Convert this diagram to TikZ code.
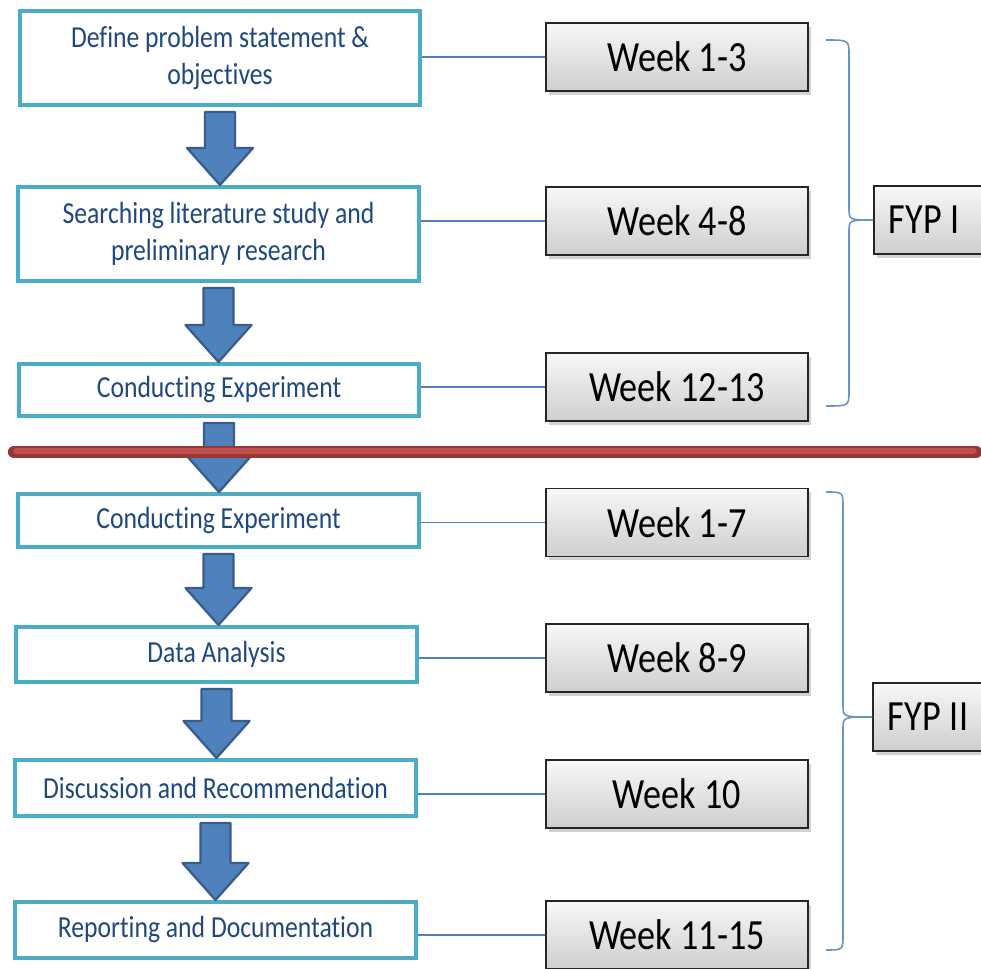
\documentclass[tikz,border=0pt]{standalone}
\usepackage{fontspec}
\setmainfont{Carlito}[FakeStretch=0.84, Ligatures=NoCommon]
\usetikzlibrary{calc,shadows,positioning}

\definecolor{boxline}{RGB}{75,172,198}
\definecolor{steptext}{RGB}{31,73,125}
\definecolor{linkblue}{RGB}{79,129,189}
\definecolor{arrowfill}{RGB}{79,129,189}
\definecolor{arrowedge}{RGB}{56,93,138}
\definecolor{cutdark}{RGB}{150,55,52}
\definecolor{cutlight}{RGB}{192,80,77}

\begin{document}
\begin{tikzpicture}[x=0.02cm, y=-0.02cm,
    stepbox/.style={draw=boxline, line width=2.3pt, fill=white, minimum width=8.02cm,
        minimum height=1.1cm, align=center, text=steptext, font=\fontsize{17.4}{21}\selectfont},
    weekbox/.style={draw=black!85, line width=1pt, top color=gray!6, bottom color=gray!38,
        minimum width=5.24cm, minimum height=1.36cm, font=\fontsize{24.5}{28}\selectfont,
        drop shadow={shadow xshift=1.5pt, shadow yshift=-2pt, opacity=0.35}},
    fypbox/.style={weekbox, minimum width=0pt, anchor=west, text width=2.2cm, align=left, inner xsep=0.3cm},
    link/.style={draw=linkblue, line width=0.7pt},
    brace/.style={draw=linkblue!85, line width=0.9pt},
    blockarrow/.style={fill=arrowfill, draw=arrowedge, line width=1.3pt, line join=round}]
    \useasboundingbox (0,0) rectangle (981,969);

    % Nodes
    \node (define) [stepbox, minimum height=1.88cm] at (220,58) {Define problem statement \&\\ objectives};
    \node (search) [stepbox, minimum height=1.88cm] at (218.5,234) {Searching literature study and\\ preliminary research};
    \node (condI) [stepbox, minimum height=1.04cm] at (219,390) {Conducting Experiment};
    \node (condII) [stepbox, minimum height=1.06cm] at (218.5,520.5) {Conducting Experiment};
    \node (data) [stepbox] at (216.5,654.5) {Data Analysis};
    \node (discuss) [stepbox, minimum height=1.12cm] at (215.5,788) {Discussion and Recommendation};
    \node (report) [stepbox, minimum height=1.12cm] at (215.5,930) {Reporting and Documentation};

    \node (wA) [weekbox] at (677,57) {Week 1-3};
    \node (wB) [weekbox] at (677,221) {Week 4-8};
    \node (wC) [weekbox] at (677,387) {Week 12-13};
    \node (wD) [weekbox] at (677,522.5) {Week 1-7};
    \node (wE) [weekbox] at (677,658) {Week 8-9};
    \node (wF) [weekbox] at (677,794) {Week 10};
    \node (wG) [weekbox] at (677,935) {Week 11-15};

    \node (fypI) [fypbox] at (873,220) {FYP\kern-0.12em\ I};
    \node (fypII) [fypbox] at (872,717) {FYP\kern-0.12em\ II};

    \coordinate (braceItop) at (826,40);
    \coordinate (braceIbot) at (826,406);
    \coordinate (braceIItop) at (826,492);
    \coordinate (braceIIbot) at (826,950);

    % Edges
    \foreach \s/\w in {define/wA, search/wB, condI/wC, condII/wD, data/wE, discuss/wF, report/wG}
        \draw[link] (\s.east |- \w.west) -- (\w.west);

    \foreach \a/\b in {define/search, search/condI, condI/condII, condII/data, data/discuss, discuss/report}
        \filldraw[blockarrow] ($(\a.south)+(-15,5)$) -- ($(\a.south)+(15,5)$)
            -- ($(\a.south |- \b.north)+(15,-37)$) -- ($(\a.south |- \b.north)+(33,-37)$)
            -- (\a.south |- \b.north)
            -- ($(\a.south |- \b.north)+(-33,-37)$) -- ($(\a.south |- \b.north)+(-15,-37)$) -- cycle;

    % Braces
    \draw[brace] (braceItop) .. controls (849,40) .. (849,55) -- (849,208) .. controls (849,220) .. (fypI.west);
    \draw[brace] (braceIbot) .. controls (849,406) .. (849,391) -- (849,232) .. controls (849,220) .. (fypI.west);
    \draw[brace] (braceIItop) .. controls (843,492) .. (843,507) -- (843,705) .. controls (843,717) .. (fypII.west);
    \draw[brace] (braceIIbot) .. controls (843,950) .. (843,935) -- (843,729) .. controls (843,717) .. (fypII.west);

    % Separator
    \draw[cutdark, line width=7pt, line cap=round] (14,452) -- (976,452);
    \draw[cutlight, line width=3pt, line cap=round] (16,451) -- (974,451);
\end{tikzpicture}
\end{document}
